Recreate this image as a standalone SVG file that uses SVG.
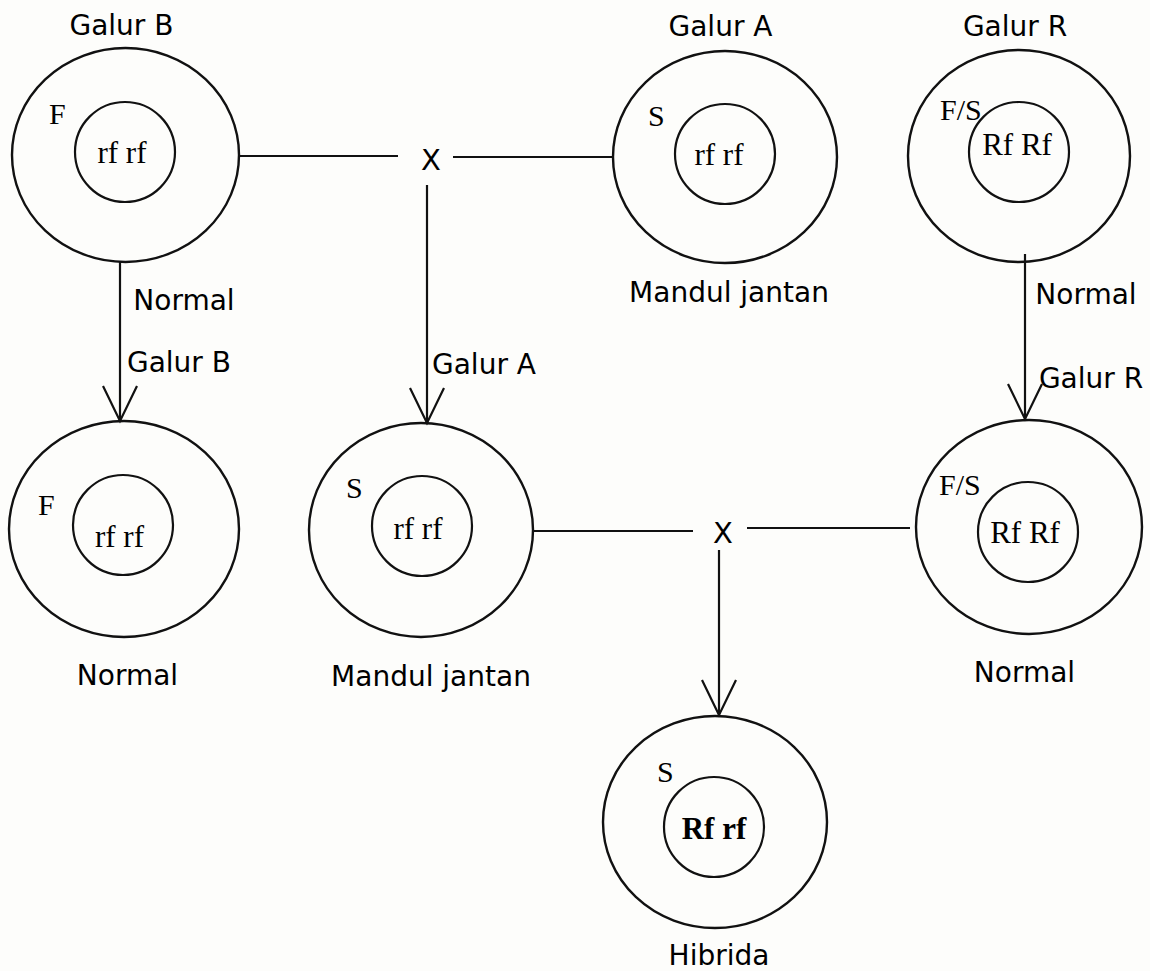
<svg xmlns="http://www.w3.org/2000/svg" width="1150" height="971" viewBox="0 0 1150 971">
<defs>
<style>
.o{fill:none;stroke:#111;stroke-width:2.4}
.i{fill:none;stroke:#111;stroke-width:2.2}
.c{fill:none;stroke:#111;stroke-width:2.2}
.lbl{font-family:"DejaVu Sans","Liberation Sans",sans-serif;font-size:28px;fill:#000;text-anchor:middle}
.x{font-family:"DejaVu Sans","Liberation Sans",sans-serif;font-size:29px;fill:#000;text-anchor:middle}
.g{font-family:"Liberation Serif","DejaVu Serif",serif;font-size:31px;fill:#000;text-anchor:middle}
.cy{font-family:"Liberation Serif","DejaVu Serif",serif;font-size:30px;fill:#000}
.b{font-weight:bold}
</style>
<marker id="vee" markerUnits="userSpaceOnUse" markerWidth="80" markerHeight="80" viewBox="-40 -40 80 80" refX="0" refY="0" orient="auto" overflow="visible">
<path d="M-35,-17 L0,0 L-35,17" fill="none" stroke="#111" stroke-width="2.2"/>
</marker>
</defs>
<rect width="1150" height="971" fill="#fdfdfb"/>

<g id="connectors">
<line class="c" x1="239" y1="156" x2="398" y2="156"/>
<line class="c" x1="453" y1="157" x2="613" y2="157"/>
<text class="x" x="431" y="170">X</text>
<line class="c" x1="427" y1="185" x2="427" y2="423" marker-end="url(#vee)"/>
<line class="c" x1="120" y1="262" x2="120" y2="421" marker-end="url(#vee)"/>
<line class="c" x1="1025" y1="254" x2="1025" y2="419" marker-end="url(#vee)"/>
<line class="c" x1="532" y1="531" x2="693" y2="531"/>
<line class="c" x1="747" y1="528" x2="910" y2="528"/>
<text class="x" x="723" y="543">X</text>
<line class="c" x1="719" y1="550" x2="719" y2="715" marker-end="url(#vee)"/>
<text class="lbl" x="184" y="310">Normal</text>
<text class="lbl" x="179" y="372">Galur B</text>
<text class="lbl" x="484" y="374">Galur A</text>
<text class="lbl" x="1086" y="304">Normal</text>
<text class="lbl" x="1091" y="388">Galur R</text>
</g>

<g id="galur-b">
<text class="lbl" x="121.5" y="35">Galur B</text>
<ellipse class="o" cx="125.5" cy="155" rx="113.5" ry="107"/>
<circle class="i" cx="125" cy="152" r="50"/>
<text class="cy" x="49" y="124">F</text>
<text class="g" x="122" y="163">rf rf</text>
</g>

<g id="galur-a">
<text class="lbl" x="720.5" y="36">Galur A</text>
<ellipse class="o" cx="725" cy="157" rx="112" ry="106"/>
<circle class="i" cx="725" cy="154" r="50"/>
<text class="cy" x="648" y="126">S</text>
<text class="g" x="719" y="165">rf rf</text>
<text class="lbl" x="729" y="302">Mandul jantan</text>
</g>

<g id="galur-r">
<text class="lbl" x="1015" y="36">Galur R</text>
<ellipse class="o" cx="1019" cy="156" rx="111" ry="106"/>
<circle class="i" cx="1019" cy="152" r="50"/>
<text class="cy" x="940" y="120">F/S</text>
<text class="g" x="1017" y="155">Rf Rf</text>
</g>

<g id="normal-b">
<ellipse class="o" cx="124" cy="529" rx="115" ry="108"/>
<circle class="i" cx="123" cy="525" r="50"/>
<text class="cy" x="38" y="515">F</text>
<text class="g" x="119.5" y="547">rf rf</text>
<text class="lbl" x="127.5" y="685">Normal</text>
</g>

<g id="mandul-a">
<ellipse class="o" cx="421" cy="530" rx="112" ry="107"/>
<circle class="i" cx="422" cy="526" r="50"/>
<text class="cy" x="346" y="498">S</text>
<text class="g" x="418" y="539">rf rf</text>
<text class="lbl" x="431" y="686">Mandul jantan</text>
</g>

<g id="normal-r">
<ellipse class="o" cx="1029" cy="527" rx="113" ry="107"/>
<circle class="i" cx="1028" cy="532" r="50"/>
<text class="cy" x="939" y="495">F/S</text>
<text class="g" x="1025" y="543">Rf Rf</text>
<text class="lbl" x="1024.5" y="682">Normal</text>
</g>

<g id="hibrida">
<ellipse class="o" cx="715" cy="822" rx="112" ry="106"/>
<circle class="i" cx="714" cy="827" r="50"/>
<text class="cy" x="657" y="782">S</text>
<text class="g b" x="714" y="839">Rf rf</text>
<text class="lbl" x="719" y="965">Hibrida</text>
</g>
</svg>
